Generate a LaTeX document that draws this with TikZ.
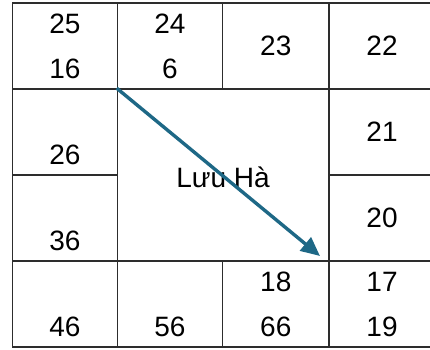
\documentclass[tikz,border=0pt]{standalone}
\usepackage{fontspec}
\setmainfont{Liberation Sans}
\usepackage{xcolor}
\usepackage{tikz}
\usetikzlibrary{arrows.meta,positioning}
\definecolor{gridline}{RGB}{45,45,45}
\definecolor{arrowblue}{RGB}{30,104,134}
\tikzset{
  cell/.style={draw=gridline, line width=1.6pt, align=center,
               inner sep=0pt, minimum width=105pt, minimum height=86pt,
               font=\fontsize{28}{45}\selectfont},
  widecell/.style={cell, minimum width=106.5pt},
  placename/.style={font=\fontsize{28}{34}\selectfont, inner sep=0pt},
  arrow/.style={-{Triangle[length=19pt,width=17pt]}, line width=3.4pt,
                draw=arrowblue}
}

\begin{document}
\begin{tikzpicture}[x=1pt, y=-1pt]
  \clip (0,0) rectangle (430,349);
  % top row
  \node[cell] (c25) at (65,46) {25\\16};
  \node[cell] (c24) at (170,46) {24\\6};
  \node[widecell] (c23) at (275.75,46) {23};
  \node[cell, minimum width=106pt] (c22) at (382,46) {22};
  % middle
  \node[cell] (c26) at (65,132) {\phantom{0}\\26};
  \node[cell] (c36) at (65,218) {\phantom{0}\\36};
  \node[cell, minimum width=211.5pt, minimum height=172pt] (mid) at (223.25,175) {};
  \node[cell, minimum width=106pt] (c21) at (382,132) {21};
  \node[cell, minimum width=106pt] (c20) at (382,218) {20};
  % bottom row
  \node[cell] (c46) at (65,304) {\phantom{0}\\46};
  \node[cell] (c56) at (170,304) {\phantom{0}\\56};
  \node[widecell] (c18) at (275.75,304) {18\\66};
  \node[cell, minimum width=106pt] (c17) at (382,304) {17\\19};
  \node[placename] (luuha) at (223,177) {Lưu Hà};
  \coordinate (tip) at (320,256);
  \draw[arrow] (mid.north west) -- (tip);
\end{tikzpicture}
\end{document}
